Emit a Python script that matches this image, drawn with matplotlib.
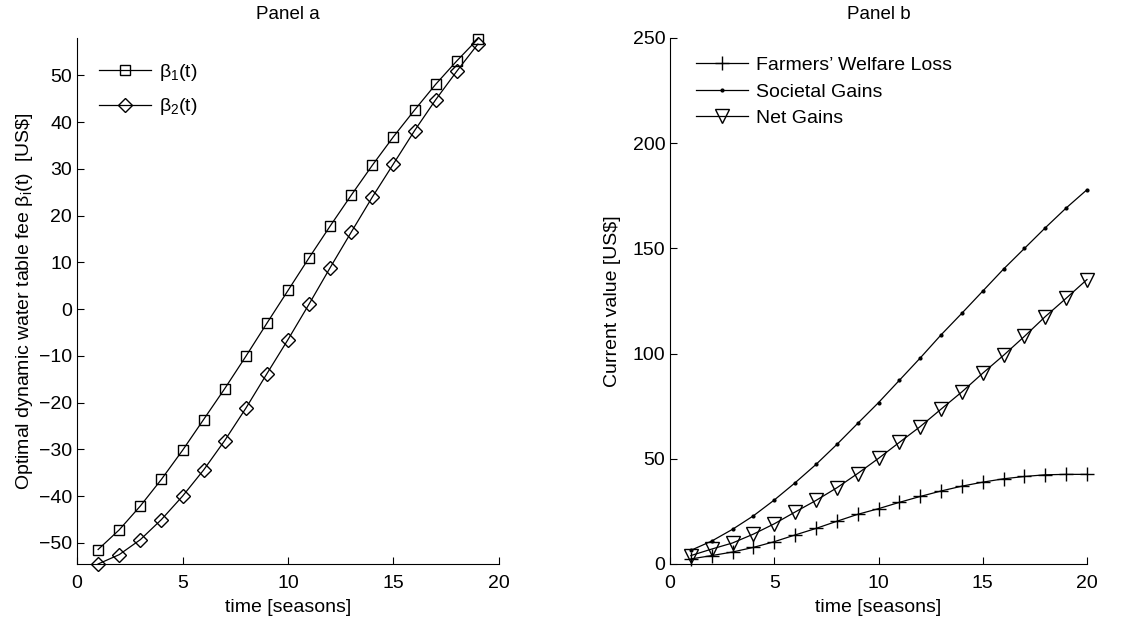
import numpy as np
import matplotlib
matplotlib.use("Agg")
import matplotlib.pyplot as plt

plt.rcParams['font.family'] = ['Liberation Sans', 'DejaVu Sans']
plt.rcParams['mathtext.fontset'] = 'custom'
plt.rcParams['mathtext.rm'] = 'Liberation Sans'
plt.rcParams['mathtext.it'] = 'Liberation Sans'

# panel a data
t_a = np.arange(1, 20)
beta1 = [-51.4, -47.2, -42.1, -36.4, -30.2, -23.6, -17.0, -10.1, -3.0, 4.0,
         11.0, 17.8, 24.4, 30.8, 36.9, 42.6, 48.1, 53.1, 57.8]
beta2 = [-54.5, -52.5, -49.3, -45.0, -40.0, -34.4, -28.1, -21.2, -13.8, -6.5,
         1.1, 8.9, 16.5, 24.0, 31.1, 38.2, 44.8, 50.9, 56.7]

# panel b data
t_b = np.arange(1, 21)
farmers = [2.4, 4.0, 5.7, 7.9, 10.6, 13.8, 16.9, 20.3, 23.6, 26.3,
           29.3, 32.1, 34.7, 37.0, 38.9, 40.5, 41.6, 42.4, 42.6, 42.6]
societal = [6.5, 10.9, 16.5, 22.9, 30.4, 38.6, 47.3, 56.8, 66.8, 76.7,
            87.3, 97.9, 108.9, 119.2, 129.7, 140.2, 150.0, 159.8, 169.2, 177.9]
net = [4.0, 7.1, 10.0, 14.2, 19.1, 24.7, 30.2, 36.2, 43.0, 50.2,
       57.8, 65.3, 73.6, 81.8, 90.7, 99.2, 108.2, 117.6, 126.3, 135.2]

fig = plt.figure(figsize=(11.46, 6.23), dpi=100)
ax1 = fig.add_axes([77/1146, 1-564/623, 422/1146, 526/623])
ax2 = fig.add_axes([670/1146, 1-564/623, 417/1146, 526/623])

fs = 14
for ax in (ax1, ax2):
    ax.spines['top'].set_visible(False)
    ax.spines['right'].set_visible(False)
    ax.tick_params(direction='in', length=5, labelsize=fs, width=0.8)
    ax.tick_params(axis='x', pad=8)
    ax.set_xlim(0, 20)
    ax.set_xticks([0, 5, 10, 15, 20])
    ax.set_xlabel('time [seasons]', fontsize=fs, labelpad=5)

ax1.plot(t_a, beta1, color='k', lw=0.9, marker='s', ms=7, mfc='none', mew=1.0,
         clip_on=False, label=r'β$_1$(t)')
ax1.plot(t_a, beta2, color='k', lw=0.9, marker='D', ms=7, mfc='none', mew=1.0,
         clip_on=False, label=r'β$_2$(t)')
ax1.set_ylim(-54.5, 58)
ax1.set_yticks(np.arange(-50, 51, 10))
ax1.set_yticklabels(['\u221250', '\u221240', '\u221230', '\u221220', '\u221210',
                     '0', '10', '20', '30', '40', '50'])
ax1.set_ylabel(r'Optimal dynamic water table fee β$_i$(t)  [US\$]', fontsize=fs, labelpad=3)
ax1.set_title('Panel a', fontsize=13.5, pad=14)
ax1.legend(loc='upper left', frameon=False, fontsize=fs, handlelength=2.7,
           bbox_to_anchor=(0.01, 0.988), labelspacing=0.7, handletextpad=0.4)

ax2.plot(t_b, farmers, color='k', lw=0.9, marker='+', ms=10, mew=1.0,
         clip_on=False, label='Farmers\u2019 Welfare Loss')
ax2.plot(t_b, societal, color='k', lw=0.9, marker='.', ms=4,
         clip_on=False, label='Societal Gains')
ax2.plot(t_b, net, color='k', lw=0.9, marker='v', ms=10, mfc='none', mew=1.0,
         clip_on=False, label='Net Gains')
ax2.set_ylim(0, 250)
ax2.set_yticks([0, 50, 100, 150, 200, 250])
ax2.set_ylabel('Current value [US$]', fontsize=fs, labelpad=8)
ax2.set_title('Panel b', fontsize=13.5, pad=14)
ax2.legend(loc='upper left', frameon=False, fontsize=fs, handlelength=2.7,
           bbox_to_anchor=(0.02, 0.998), labelspacing=0.45, handletextpad=0.4)

fig.savefig('out.png', dpi=100)
